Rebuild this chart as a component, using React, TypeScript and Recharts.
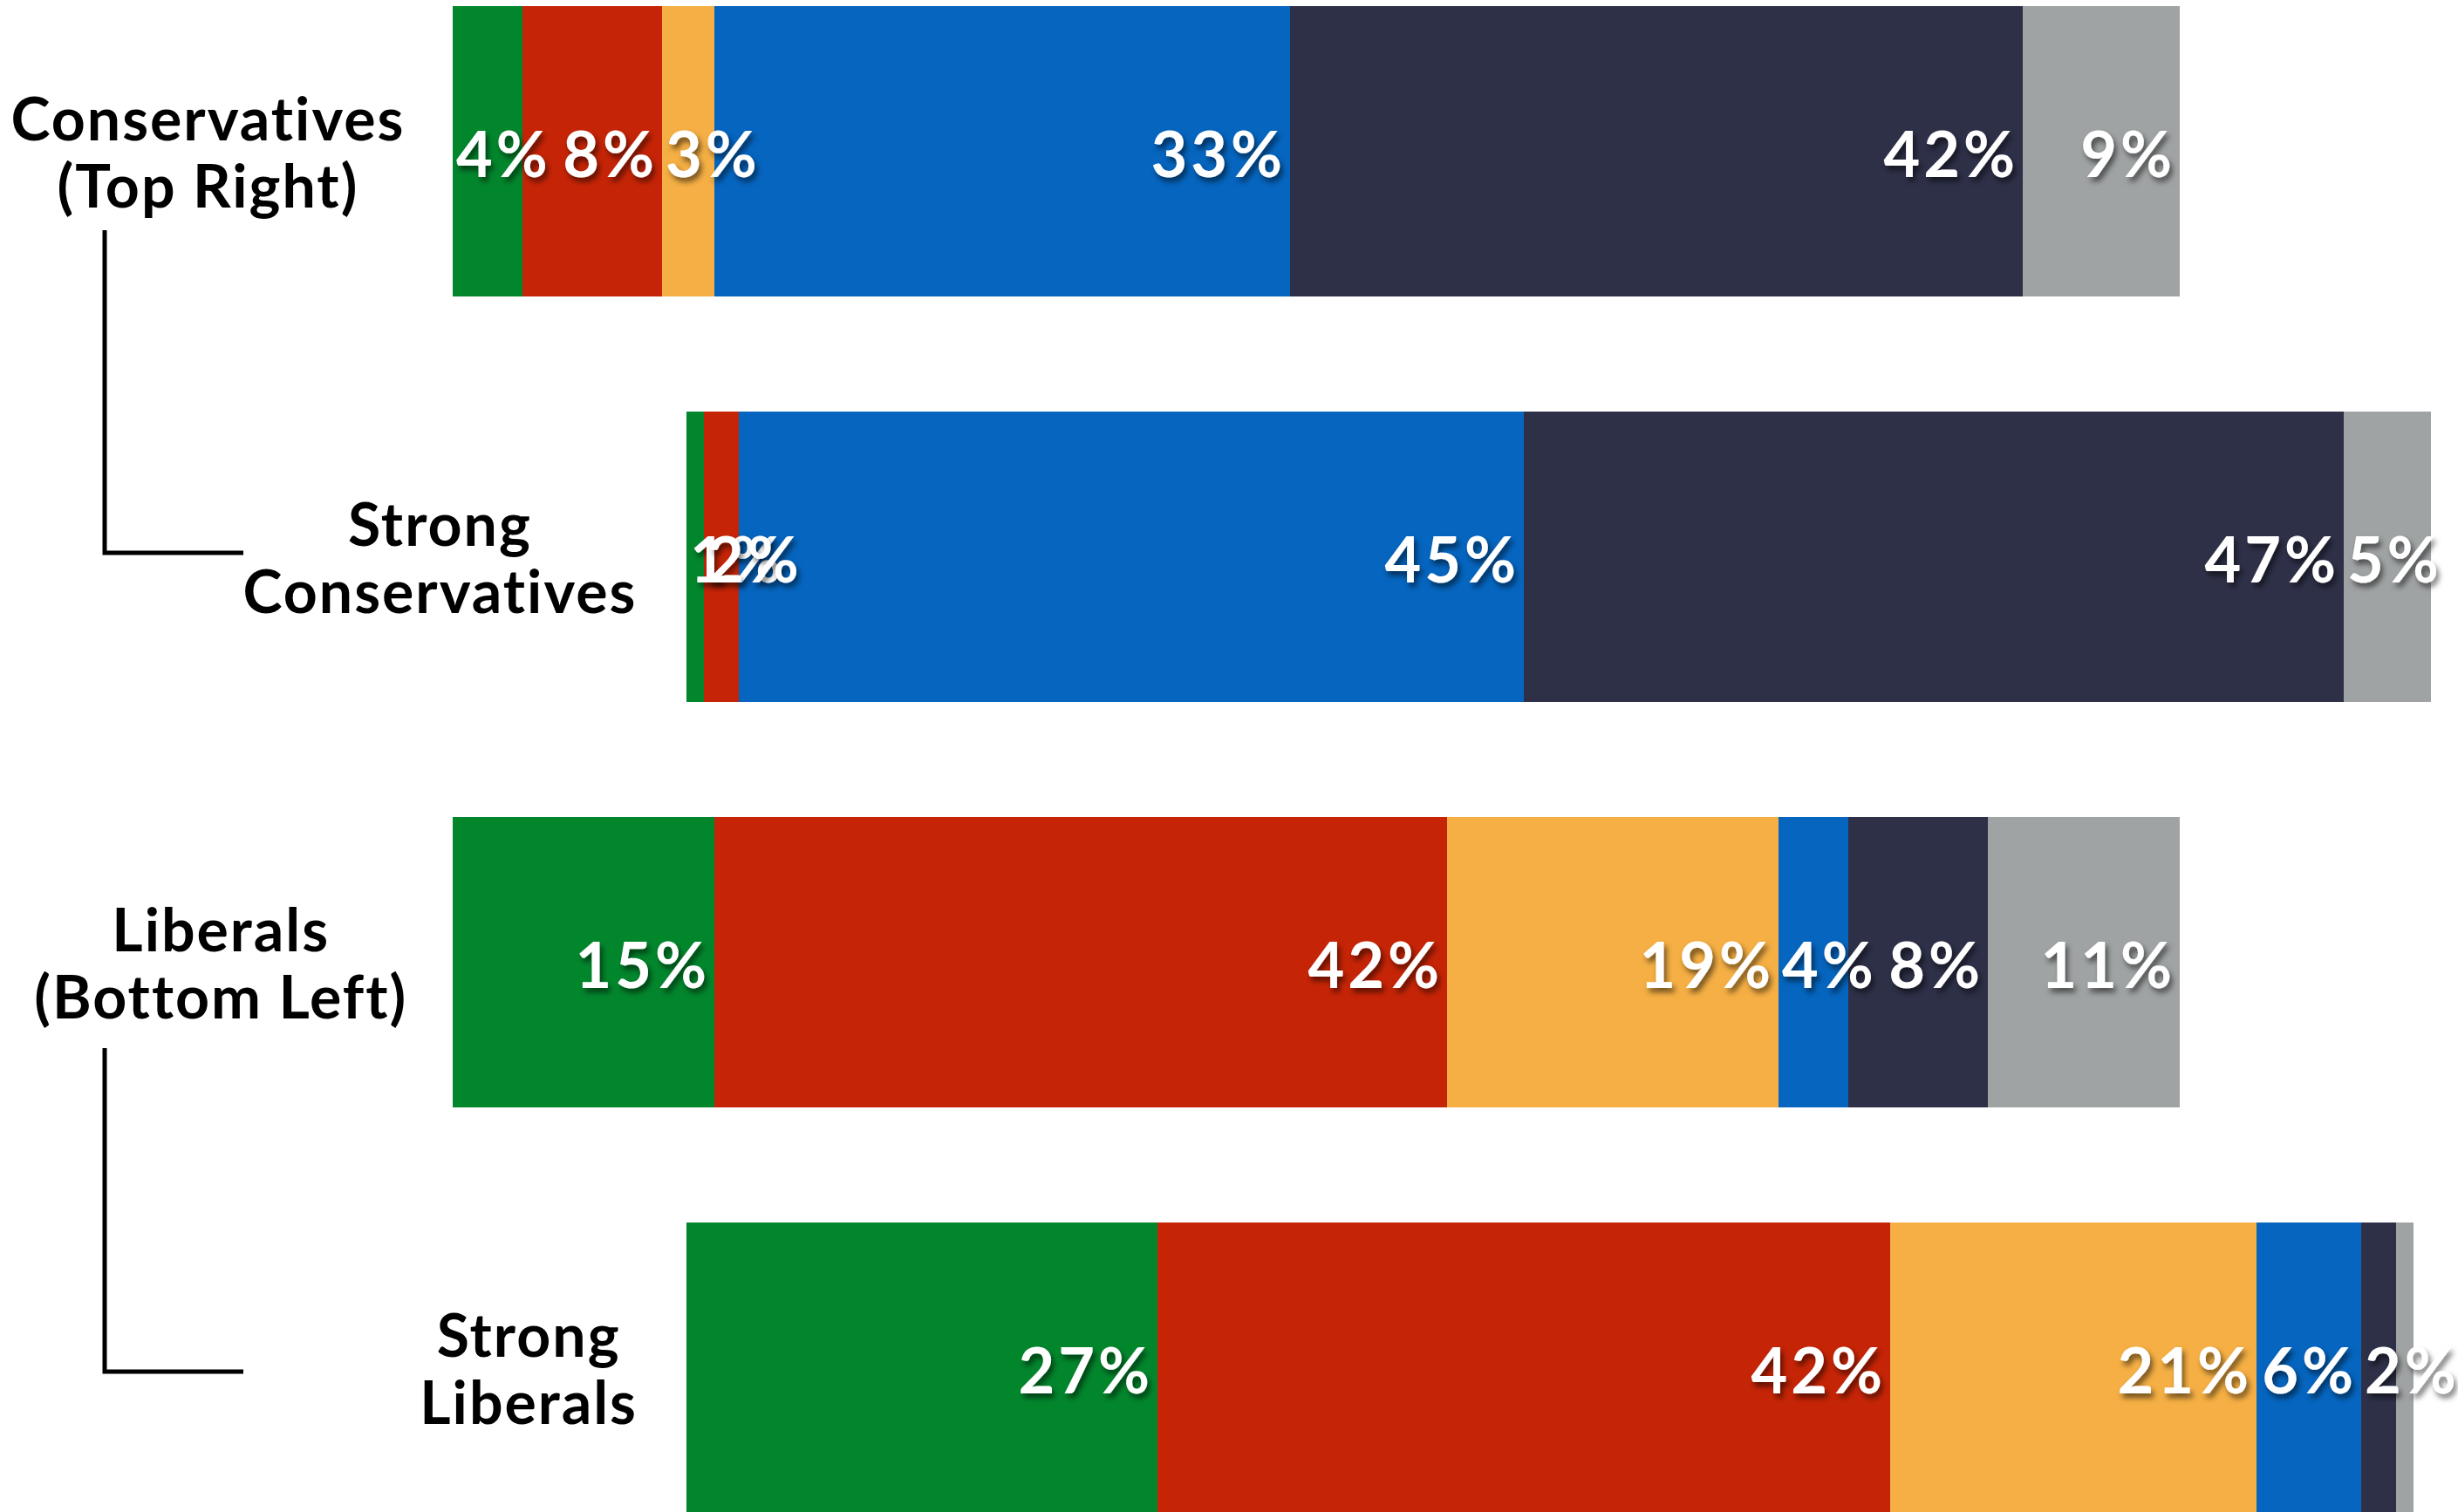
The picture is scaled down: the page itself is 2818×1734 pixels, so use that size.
import React from 'react';
import { BarChart, Bar, XAxis, YAxis, LabelList } from 'recharts';

// ---------- data ----------
const categories = [
  'Conservatives (Top Right)',
  'Strong Conservatives',
  'Liberals (Bottom Left)',
  'Strong Liberals',
];
const categoryLines = [
  ['Conservatives', '(Top Right)'],
  ['Strong', 'Conservatives'],
  ['Liberals', '(Bottom Left)'],
  ['Strong', 'Liberals'],
];
// indentation of the sub-group bars (in percentage units)
const indent = [0, 13.4, 0, 13.4];
const seg1 = [4, 1, 15, 27];
const seg2 = [8, 2, 42, 42];
const seg3 = [3, 0, 19, 21];
const seg4 = [33, 45, 4, 6];
const seg5 = [42, 47, 8, 2];
const seg6 = [9, 5, 11, 1];

const seriesKeys = ['s1', 's2', 's3', 's4', 's5', 's6'];
const seriesValues = [seg1, seg2, seg3, seg4, seg5, seg6];
const seriesColors = ['#02862C', '#C62406', '#F5AF44', '#0565BF', '#2E3048', '#A0A3A4'];

const data = categories.map((name, i) => {
  const row: any = { name, indent: indent[i] };
  seriesKeys.forEach((k, j) => (row[k] = seriesValues[j][i]));
  return row;
});

// ---------- layout ----------
const W = 2818;
const H = 1734;
const CHART_H = 1860;
const CHART_TOP = -59;
const LEFT = 519;
const LABEL_FONT_SIZE = 72;
const LABEL_LS = 4;
const CAT_FONT_SIZE = 68;
const CAT_LS = 2;
const FONT = 'Lato';
const labelRightEdge = [463, 729, 463, 729];

let ctx: CanvasRenderingContext2D | null = null;
const measure = (text: string, size: number, ls: number) => {
  if (!ctx) {
    const c = document.createElement('canvas');
    ctx = c.getContext('2d');
  }
  if (!ctx) return text.length * (size * 0.6 + ls);
  ctx.font = `bold ${size}px ${FONT}`;
  return ctx.measureText(text).width + ls * (text.length - 1);
};

const makeLabel = (key: string) => (props: any) => {
  const { x, y, width, height, value } = props;
  if (!value) return null;
  const text = `${value}%`;
  const w = measure(text, LABEL_FONT_SIZE, LABEL_LS);
  let tx: number;
  let anchor: 'start' | 'end';
  if (width >= w + 14) {
    tx = x + width - 9 + LABEL_LS;
    anchor = 'end';
  } else {
    tx = x + 4;
    anchor = 'start';
    if (tx + w > W) return null;
  }
  return (
    <text
      key={`${key}-${x}-${y}`}
      x={tx}
      y={y + height / 2 + 29}
      textAnchor={anchor}
      fill="#ffffff"
      fontSize={LABEL_FONT_SIZE}
      fontWeight={700}
      fontFamily={FONT}
      letterSpacing={LABEL_LS}
      filter="url(#lblShadow)"
    >
      {text}
    </text>
  );
};

const CategoryTick = (props: any) => {
  const { y, index } = props;
  const lines = categoryLines[index] || [String(props.payload?.value ?? '')];
  const maxW = Math.max(...lines.map((l) => measure(l, CAT_FONT_SIZE, CAT_LS)));
  const cx = labelRightEdge[index] - maxW / 2 + CAT_LS / 2;
  return (
    <text
      x={cx}
      y={y}
      textAnchor="middle"
      fill="#000"
      fontSize={CAT_FONT_SIZE}
      fontWeight={700}
      fontFamily={FONT}
      letterSpacing={CAT_LS}
    >
      <tspan x={cx} y={y - 13}>{lines[0]}</tspan>
      <tspan x={cx} y={y + 64}>{lines[1]}</tspan>
    </text>
  );
};

export default function App() {
  return (
    <div
      style={{
        position: 'fixed',
        left: 0,
        top: 0,
        width: W,
        height: H,
        overflow: 'hidden',
        background: '#ffffff',
      }}
    >
      <svg width={0} height={0} style={{ position: 'absolute' }}>
        <defs>
          <filter id="lblShadow" x="-20%" y="-20%" width="150%" height="160%">
            <feDropShadow dx="3" dy="5" stdDeviation="3" floodColor="#000" floodOpacity="0.55" />
          </filter>
        </defs>
      </svg>
      <div style={{ position: 'absolute', left: 0, top: CHART_TOP }}>
        <BarChart
          width={W}
          height={CHART_H}
          data={data}
          layout="vertical"
          margin={{ top: 0, right: 0, bottom: 0, left: 0 }}
          barSize={333}
        >
          <XAxis type="number" hide domain={[0, (W - LEFT) / 20]} allowDataOverflow />
          <YAxis
            type="category"
            dataKey="name"
            width={LEFT}
            axisLine={false}
            tickLine={false}
            interval={0}
            tick={<CategoryTick />}
          />
          <Bar dataKey="indent" stackId="a" fill="transparent" isAnimationActive={false} />
          {seriesKeys.map((k, j) => (
            <Bar key={k} dataKey={k} stackId="a" fill={seriesColors[j]} isAnimationActive={false}>
              <LabelList dataKey={k} content={makeLabel(k)} />
            </Bar>
          ))}
        </BarChart>
      </div>
      <svg
        width={W}
        height={H}
        style={{ position: 'absolute', left: 0, top: 0, pointerEvents: 'none' }}
      >
        <path d="M120 264 L120 634 L279 634" fill="none" stroke="#000" strokeWidth={5} />
        <path d="M120 1202 L120 1573 L279 1573" fill="none" stroke="#000" strokeWidth={5} />
      </svg>
    </div>
  );
}
